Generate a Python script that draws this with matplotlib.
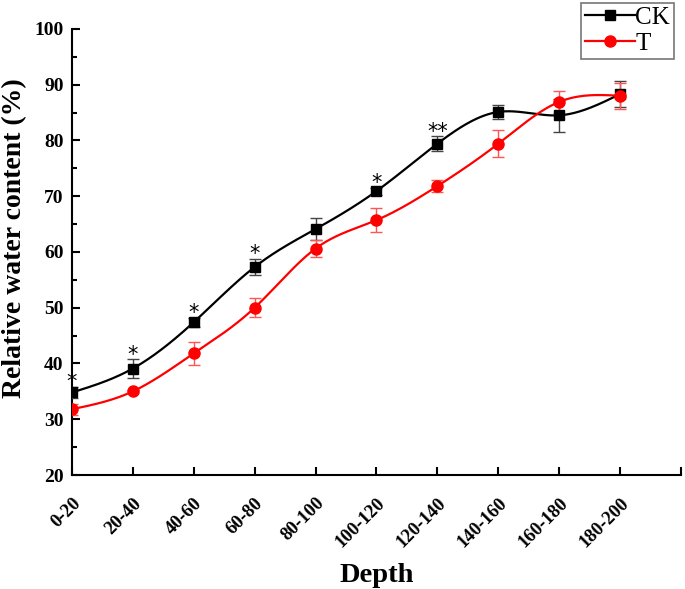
import numpy as np
import matplotlib.pyplot as plt

depth = ["0-20", "20-40", "40-60", "60-80", "80-100",
         "100-120", "120-140", "140-160", "160-180", "180-200"]

ck = [34.8, 39.1, 47.4, 57.3, 64.1, 70.9, 79.4, 85.1, 84.5, 88.3]
ck_err = [1.0, 1.7, 0.8, 1.5, 2.0, 0.6, 1.3, 1.2, 3.0, 2.4]

t = [31.8, 35.0, 41.8, 50.0, 60.6, 65.7, 71.8, 79.4, 86.9, 88.0]
t_err = [1.0, 0.3, 2.0, 1.7, 1.5, 2.1, 1.1, 2.4, 2.0, 2.3]

stars = ["*", "*", "*", "*", "", "*", "**", "", "", ""]


def natural_spline(x, y, n=400):
    # natural cubic spline, solved with numpy
    x = np.asarray(x, float)
    y = np.asarray(y, float)
    k = len(x)
    h = np.diff(x)
    A = np.zeros((k, k))
    b = np.zeros(k)
    A[0, 0] = 1
    A[-1, -1] = 1
    for i in range(1, k - 1):
        A[i, i - 1] = h[i - 1]
        A[i, i] = 2 * (h[i - 1] + h[i])
        A[i, i + 1] = h[i]
        b[i] = 3 * ((y[i + 1] - y[i]) / h[i] - (y[i] - y[i - 1]) / h[i - 1])
    c = np.linalg.solve(A, b)
    xs = np.linspace(x[0], x[-1], n)
    idx = np.clip(np.searchsorted(x, xs) - 1, 0, k - 2)
    dx = xs - x[idx]
    bb = (y[idx + 1] - y[idx]) / h[idx] - h[idx] * (2 * c[idx] + c[idx + 1]) / 3
    dd = (c[idx + 1] - c[idx]) / (3 * h[idx])
    ys = y[idx] + bb * dx + c[idx] * dx ** 2 + dd * dx ** 3
    return xs, ys


plt.rcParams["font.family"] = ["Liberation Serif", "DejaVu Serif"]

fig = plt.figure(figsize=(6.85, 5.89), dpi=100)
ax = fig.add_axes([0.105, 0.1935, 0.889, 0.7575])

x = np.arange(len(depth))

for vals, errs, col, ecol, mk, ms, lab in [
        (ck, ck_err, "black", "#444444", "s", 7, "CK"),
        (t, t_err, "red", "#ff5555", "o", 8, "T")]:
    xs, ys = natural_spline(x, vals)
    ax.plot(xs, ys, color=col, lw=1.6, zorder=2)
    ax.errorbar(x, vals, yerr=errs, fmt="none", ecolor=ecol,
                elinewidth=1.0, capsize=4, capthick=1.0, zorder=3)
    ax.plot(x, vals, linestyle="none", marker=mk, color=col, ms=ms, zorder=4)
    ax.plot([], [], color=col, lw=1.6, marker=mk, ms=ms, label=lab)

for i, s in enumerate(stars):
    if s:
        ax.text(x[i], ck[i] + ck_err[i] - 1.0, s, ha="center", va="bottom",
                fontsize=15, family="DejaVu Sans")

ax.set_xlim(0, 10)
ax.set_ylim(20, 100)
ax.set_xticks(np.arange(11))
ax.set_xticklabels(depth + [""], rotation=45, ha="right",
                   rotation_mode="anchor", fontweight="bold", fontsize=13.5)
ax.set_yticks(np.arange(20, 101, 10))
ax.set_yticks(np.arange(25, 100, 10), minor=True)
for lbl in ax.get_yticklabels():
    lbl.set_fontweight("bold")
    lbl.set_fontsize(14)

ax.spines["top"].set_visible(False)
ax.spines["right"].set_visible(False)
ax.spines["left"].set_linewidth(1.5)
ax.spines["bottom"].set_linewidth(1.5)
ax.tick_params(axis="both", which="major", length=6, width=1.5, direction="in")
ax.tick_params(axis="y", which="minor", length=3.5, width=1.5, direction="in")
ax.tick_params(axis="x", pad=14)
ax.tick_params(axis="y", pad=6)

ax.set_ylabel("Relative water content (%)", fontsize=20, fontweight="bold")
ax.yaxis.set_label_coords(-0.073, 0.531)
ax.set_xlabel("Depth", fontsize=20.5, fontweight="bold", labelpad=9)

leg = fig.legend(loc="upper right", bbox_to_anchor=(0.987, 1.0),
                 fontsize=18, frameon=True, fancybox=False,
                 handlelength=2.0, handletextpad=0.0, borderpad=0.15,
                 labelspacing=0.15, borderaxespad=0.1)
leg.get_frame().set_edgecolor("#555555")
leg.get_frame().set_linewidth(1.2)

fig.savefig("out.png", dpi=100)
